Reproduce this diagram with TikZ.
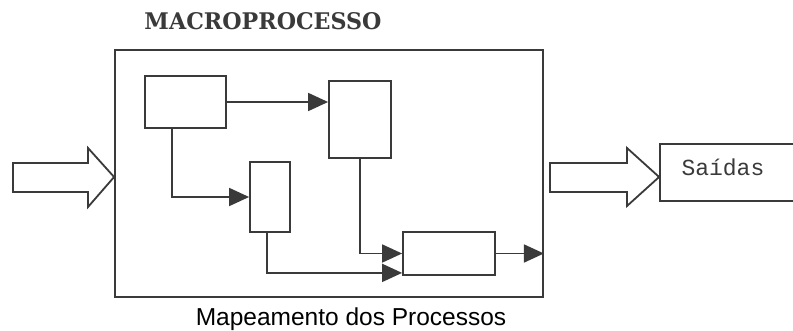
\documentclass[tikz,border=0pt]{standalone}
\usepackage{fontspec}
\setmainfont{Liberation Sans}
\newfontfamily\slabfont{DejaVu Serif}
\newfontfamily\monofont{Liberation Mono}
\usetikzlibrary{arrows.meta,calc}
\definecolor{ink}{HTML}{3A3A3A}
\begin{document}
\begin{tikzpicture}[x=1pt,y=-1pt,
  proc/.style={draw=ink,line width=1.8pt,minimum width=#1,inner sep=0pt},
  conn/.style={draw=ink,line width=1.8pt,-{Triangle[length=20pt,width=18pt]}},
  blockarrow/.style={draw=ink,line width=1.8pt,line join=miter,fill=white}]
\clip (0,0) rectangle (793,331);
\fill[white] (0,0) rectangle (793,331);
% main frame
\node[proc=428pt,minimum height=247pt] (macro) at (329,173.5) {};
\node[text=ink] (title) at (263,21) {\resizebox{237pt}{17pt}{\slabfont\bfseries MACROPROCESSO}};
\node[text=black,font=\fontsize{24.5}{26}\selectfont] (caption) at (351,319) {Mapeamento dos Processos};
% inner processes
\node[proc=81pt,minimum height=52pt] (b1) at (185.5,102) {};
\node[proc=62pt,minimum height=77pt] (b2) at (360,119.5) {};
\node[proc=40pt,minimum height=70pt] (b3) at (270,197) {};
\node[proc=92pt,minimum height=43pt] (b4) at (449,253.5) {};
% outputs box
\node[proc=145pt,minimum height=57pt] (out) at (732.5,172.5) {};
\node[text=ink,font=\monofont\fontsize{23}{25}\selectfont,anchor=west] (outtext) at (678,167) {Saídas};
% connectors
\draw[conn] (b1.east) -- (b1.east -| b2.west);
\coordinate (b1drop) at ($(b1.south west)+(28,0)$);
\draw[conn] (b1drop) |- (b3.west);
\draw[conn] (b2.south) |- (b4.west);
\coordinate (b3drop) at ($(b3.south)+(-3,0)$);
\draw[conn] (b3drop) |- ($(b4.south west)+(0,-3)$);
\draw[conn] (b4.east) -- (b4.east -| macro.east);
% block arrows
\draw[blockarrow] (13,163) -- (88,163) -- (88,148) -- (macro.west |- 0,177) -- (88,207) -- (88,192) -- (13,192) -- cycle;
\draw[blockarrow] (550,163) -- (627,163) -- (627,148) -- (out.west |- 0,177) -- (627,206) -- (627,192) -- (550,192) -- cycle;
\end{tikzpicture}
\end{document}
